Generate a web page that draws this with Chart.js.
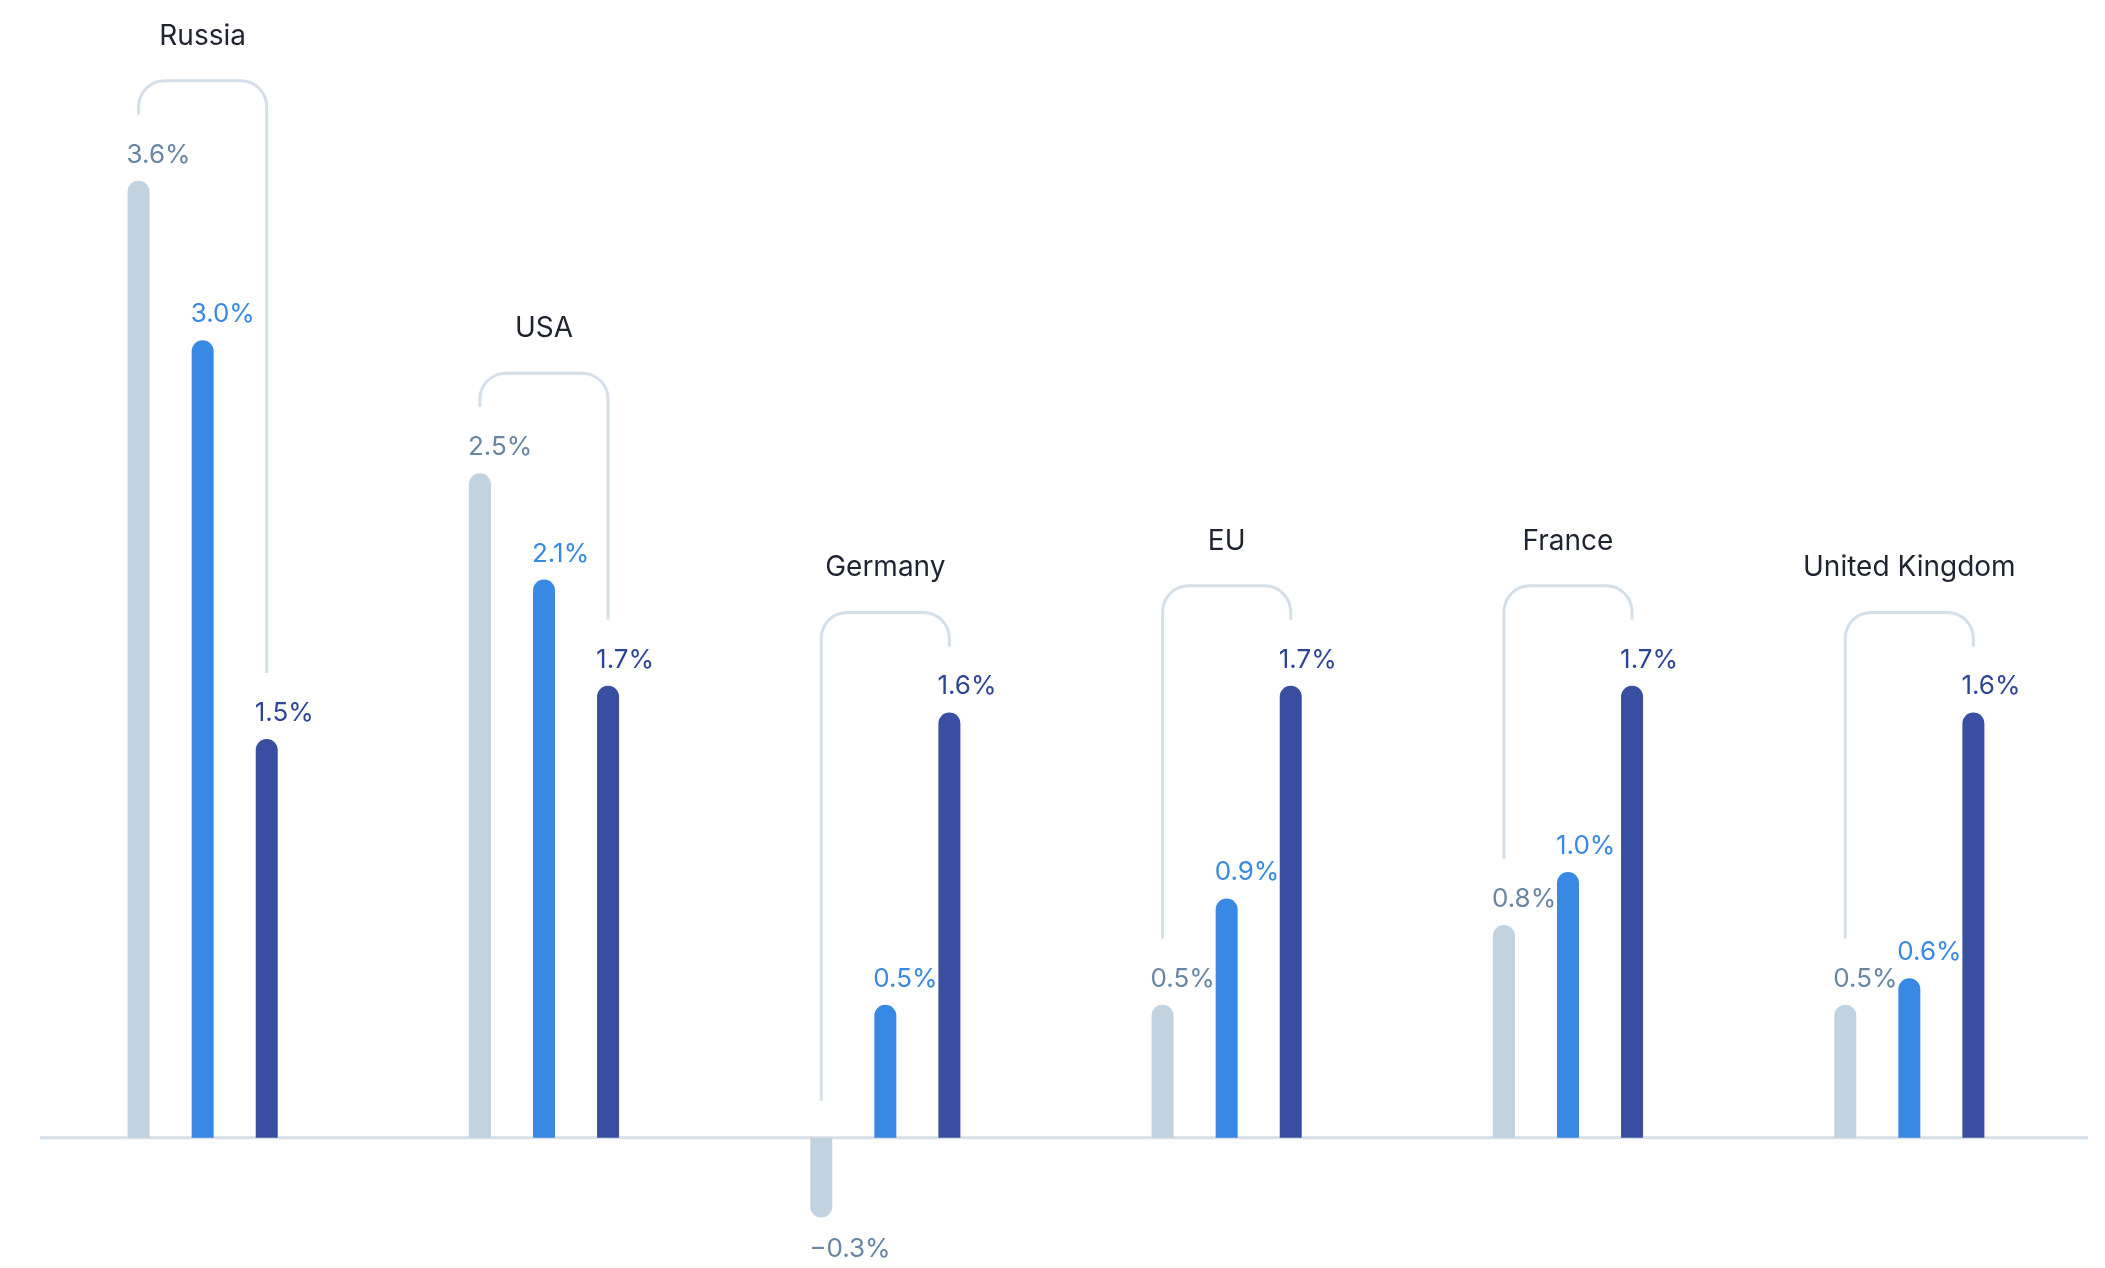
<!DOCTYPE html>
<html>
<head>
<meta charset="utf-8">
<script src="https://cdn.jsdelivr.net/npm/chart.js@4"></script>
<style>
html,body{margin:0;padding:0;background:#fff;}
#wrap{width:2105px;height:1268px;}
</style>
</head>
<body>
<div id="wrap"><canvas id="grafico" width="2105" height="1268"></canvas></div>
<script>
const paises=["Russia","USA","Germany","EU","France","United Kingdom"];
const serie1=[3.6,2.5,-0.3,0.5,0.8,0.5];
const serie2=[3.0,2.1,0.5,0.9,1.0,0.6];
const serie3=[1.5,1.7,1.6,1.7,1.7,1.6];

const coresBarra=["#c1d3e1","#3889e3","#374ea1"];
const coresTexto=["#6886a3","#3889e3","#2e4496"];
const fonte="Inter, 'Noto Sans', sans-serif";

function fmt(v){
return (v<0?"\u2212":"")+Math.abs(v).toFixed(1)+"%";
}

// linha do zero, rótulos de valor, colchetes e nomes dos países
const anotacoes={
id:"anotacoes",
beforeDatasetsDraw(chart){
const ctx=chart.ctx;
const y0=chart.scales.y.getPixelForValue(0);
ctx.save();
ctx.strokeStyle="#d7dfe7";
ctx.lineWidth=3;
ctx.beginPath();
ctx.moveTo(chart.chartArea.left+8,y0);
ctx.lineTo(chart.chartArea.right+8,y0);
ctx.stroke();
ctx.restore();
},
afterDatasetsDraw(chart){
const ctx=chart.ctx;
const ys=chart.scales.y;
const y0=ys.getPixelForValue(0);
ctx.save();

// rótulos
chart.data.datasets.forEach((ds,di)=>{
const meta=chart.getDatasetMeta(di);
meta.data.forEach((bar,i)=>{
const v=ds.data[i];
ctx.font="400 26px "+fonte;
ctx.fillStyle=coresTexto[di];
ctx.textAlign="left";
ctx.textBaseline="alphabetic";
const x=bar.x-bar.width/2-1;
if(v>=0){
ctx.fillText(fmt(v),x,bar.y-18);
}else{
ctx.fillText(fmt(v),x,bar.y+40);
}
});
});

// colchetes
paises.forEach((p,i)=>{
const b1=chart.getDatasetMeta(0).data[i];
const b2=chart.getDatasetMeta(1).data[i];
const b3=chart.getDatasetMeta(2).data[i];
const vals=[serie1[i],serie2[i],serie3[i]];
const topo=ys.getPixelForValue(Math.max(...vals))-100;
const fim=(v,bar)=>v>=0?bar.y-66:y0-37;
const xl=b1.x,xr=b3.x,r=26;

ctx.strokeStyle="#d5dfe9";
ctx.lineWidth=3;
ctx.beginPath();
ctx.moveTo(xl,fim(vals[0],b1));
ctx.lineTo(xl,topo+r);
ctx.arcTo(xl,topo,xl+r,topo,r);
ctx.lineTo(xr-r,topo);
ctx.arcTo(xr,topo,xr,topo+r,r);
ctx.lineTo(xr,fim(vals[2],b3));
ctx.stroke();

ctx.font="400 28px "+fonte;
ctx.fillStyle="#1f2430";
ctx.textAlign="center";
ctx.fillText(p,b2.x,topo-36);
});

ctx.restore();
}
};

new Chart(
document.getElementById("grafico"),
{
type:"bar",
data:{
labels:paises,
datasets:[
{label:"Série 1",data:serie1,backgroundColor:coresBarra[0]},
{label:"Série 2",data:serie2,backgroundColor:coresBarra[1]},
{label:"Série 3",data:serie3,backgroundColor:coresBarra[2]}
]
},
options:{
responsive:false,
animation:false,
layout:{padding:{left:32,right:25,top:0,bottom:0}},
datasets:{
bar:{
categoryPercentage:0.563,
barPercentage:1,
maxBarThickness:22,
borderRadius:11,
borderSkipped:"start"
}
},
plugins:{
legend:{display:false},
tooltip:{enabled:false}
},
scales:{
x:{display:false},
y:{display:false,min:-0.49,max:4.28}
}
},
plugins:[anotacoes]
}
);
</script>
</body>
</html>
